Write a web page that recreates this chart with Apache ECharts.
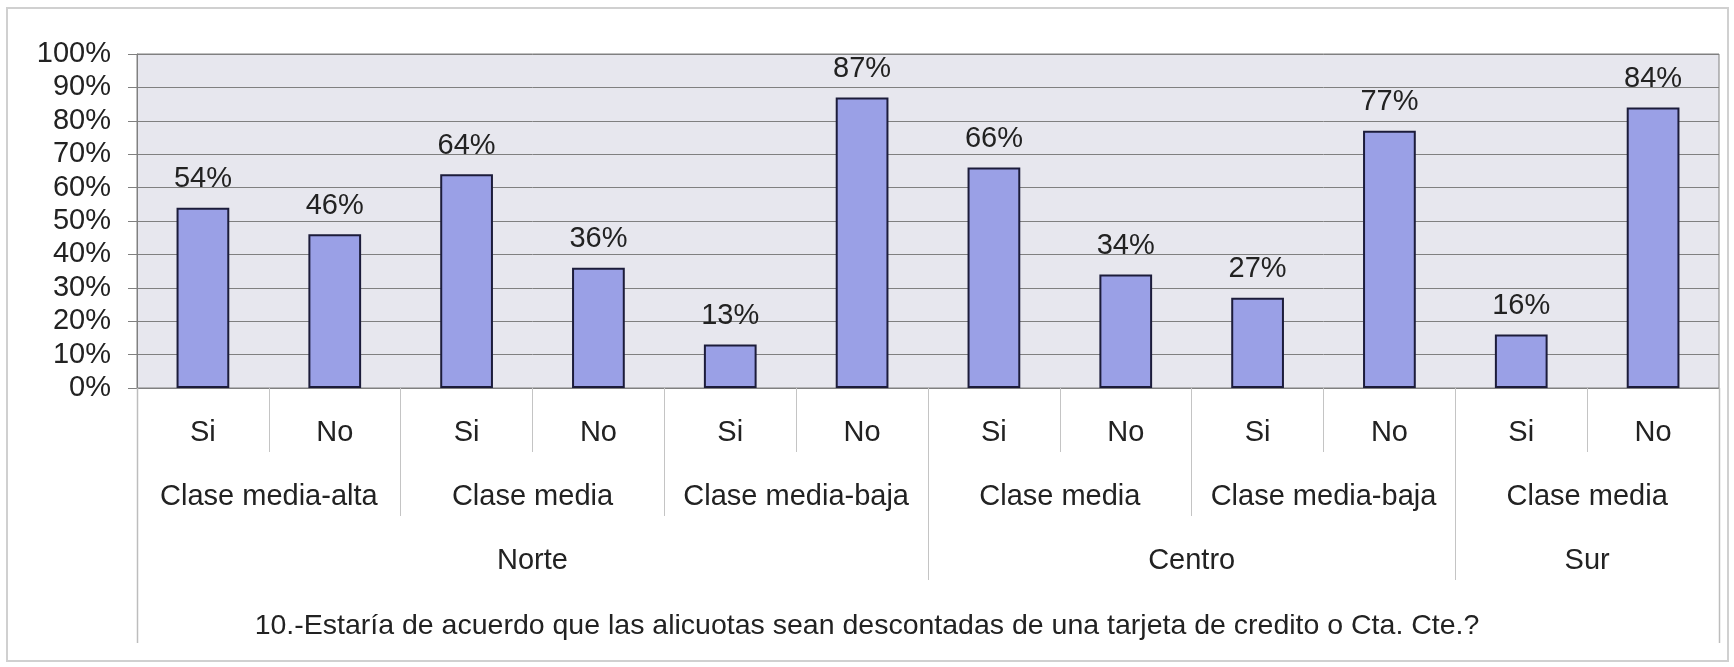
<!DOCTYPE html>
<html>
<head>
<meta charset="utf-8">
<script src="https://cdn.jsdelivr.net/npm/echarts@6/dist/echarts.min.js"></script>
<style>
  html, body { margin: 0; padding: 0; background: #ffffff; }
  #chart { width: 1734px; height: 667px; }
</style>
</head>
<body>
<div id="chart"></div>
<script>
// Answers (innermost row of the category table)
const answers = ['Si', 'No', 'Si', 'No', 'Si', 'No', 'Si', 'No', 'Si', 'No', 'Si', 'No'];
// Percentage of respondents per answer
const values = [54, 46, 64, 36, 13, 87, 66, 34, 27, 77, 16, 84];
// Social class groups, each spanning two answers
const classes = ['Clase media-alta', 'Clase media', 'Clase media-baja', 'Clase media', 'Clase media-baja', 'Clase media'];
// Regions and how many answers each one covers
const regions = ['Norte', 'Centro', 'Sur'];
const regionSpans = [6, 4, 2];
const yTicks = [0, 10, 20, 30, 40, 50, 60, 70, 80, 90, 100];
const question = '10.-Estaría de acuerdo que las alicuotas sean descontadas de una tarjeta de credito o Cta. Cte.?';

const FONT = 'Liberation Sans, Arial, sans-serif';
const TXT = '#222222';
const SEP = '#c4c4c4';
const TABLE_DEPTH = 255; // how far the outer table edges reach below the axis

// Boundary-positioned axes: 13 slots (edges 0..12) so that group labels
// and separators can sit on category edges.
const n = answers.length;
const edgeSlots = Array.from({ length: n + 1 }, (_, i) => String(i));

// Class row: label in the middle of each pair, separator at pair edges
const classLabelAt = {};
classes.forEach((c, i) => { classLabelAt[2 * i + 1] = c; });

// Region row: label centred on its span, separator at span edges
const regionLabelAt = {};
const regionEdges = new Set([0]);
let start = 0;
regions.forEach((r, i) => {
  const span = regionSpans[i];
  regionLabelAt[start + span / 2] = r;
  start += span;
  regionEdges.add(start);
});

const chart = echarts.init(document.getElementById('chart'), null, { renderer: 'canvas' });

const baseLabel = { fontFamily: FONT, fontSize: 29, color: TXT };

chart.setOption({
  animation: false,
  backgroundColor: '#ffffff',
  title: {
    text: question,
    left: 'center',
    top: 607,
    textStyle: { fontFamily: FONT, fontSize: 28.5, fontWeight: 'normal', color: TXT }
  },
  grid: {
    left: 137, right: 15, top: 54, bottom: 279,
    show: true,
    backgroundColor: '#e7e7ee',
    borderColor: '#808080',
    borderWidth: 1
  },
  yAxis: {
    type: 'value',
    min: yTicks[0],
    max: yTicks[yTicks.length - 1],
    interval: 10,
    axisLine: { show: true, lineStyle: { color: '#808080', width: 1 } },
    axisTick: { show: true, length: 9, lineStyle: { color: '#808080' } },
    axisLabel: Object.assign({ formatter: '{value}%', margin: 26 }, baseLabel),
    splitLine: { show: true, lineStyle: { color: '#808080', width: 1 } }
  },
  xAxis: [
    {
      // Si / No row
      type: 'category',
      data: answers,
      position: 'bottom',
      axisLine: { show: true, lineStyle: { color: '#808080', width: 1 } },
      axisTick: { show: true, interval: 0, length: 64, lineStyle: { color: SEP } },
      axisLabel: Object.assign({ interval: 0, margin: 30 }, baseLabel),
      splitLine: { show: false }
    },
    {
      // Social class row
      type: 'category',
      data: edgeSlots,
      boundaryGap: false,
      position: 'bottom',
      axisLine: { show: false },
      axisTick: { show: true, length: 128, interval: (i) => i % 2 === 0, lineStyle: { color: SEP } },
      axisLabel: Object.assign({
        interval: (i) => classLabelAt[i] !== undefined,
        formatter: (v, i) => classLabelAt[i] || '',
        margin: 94
      }, baseLabel),
      splitLine: { show: false }
    },
    {
      // Region row
      type: 'category',
      data: edgeSlots,
      boundaryGap: false,
      position: 'bottom',
      axisLine: { show: false },
      axisTick: { show: true, length: 192, interval: (i) => regionEdges.has(i), lineStyle: { color: SEP } },
      axisLabel: Object.assign({
        interval: (i) => regionLabelAt[i] !== undefined,
        formatter: (v, i) => regionLabelAt[i] || '',
        margin: 158
      }, baseLabel),
      splitLine: { show: false }
    }
  ],
  series: [{
    type: 'bar',
    xAxisIndex: 0,
    data: values,
    barWidth: '40%',
    itemStyle: { color: '#9aa0e6', borderColor: '#1c1c3a', borderWidth: 2 },
    label: {
      show: true,
      position: 'top',
      distance: 14,
      formatter: '{c}%',
      fontFamily: FONT,
      fontSize: 29,
      color: TXT
    }
  }]
});

// Outer edges of the category table (left and right), placed with the axis scales
const baseY = chart.convertToPixel({ yAxisIndex: 0 }, yTicks[0]);
const edgeLines = [0, n].map((i) => {
  const x = Math.round(chart.convertToPixel({ xAxisIndex: 1 }, i)) + 0.5;
  return {
    type: 'line',
    silent: true,
    z: 100,
    shape: { x1: x, y1: baseY, x2: x, y2: baseY + TABLE_DEPTH },
    style: { stroke: '#bdbdbd', lineWidth: 1.5 }
  };
});

chart.setOption({
  graphic: [{
    type: 'rect',
    silent: true,
    z: -10,
    shape: { x: 7, y: 8, width: 1721, height: 653 },
    style: { fill: 'none', stroke: '#d0d0d0', lineWidth: 2 }
  }].concat(edgeLines)
});
</script>
</body>
</html>
